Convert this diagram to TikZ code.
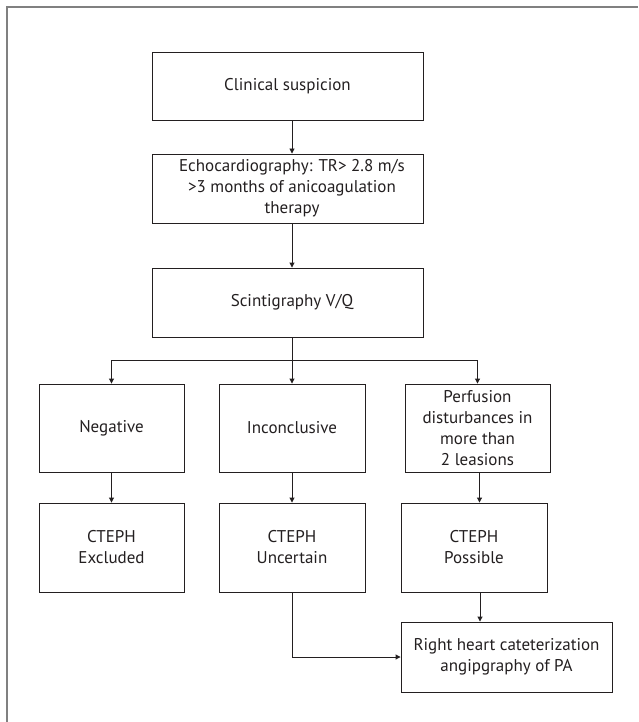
\documentclass[tikz,border=0pt]{standalone}
\usepackage{fontspec}
\setmainfont{PT Sans}
\usetikzlibrary{arrows.meta}
\definecolor{ink}{HTML}{231F20}
\definecolor{framegray}{HTML}{808080}

\begin{document}
\begin{tikzpicture}[x=1pt,y=-1pt,
    box/.style={draw=ink, line width=0.9pt, text=ink, align=center, inner sep=0pt,
        font=\fontsize{17}{21}\selectfont},
    flow/.style={draw=ink, line width=0.9pt, -{Triangle[length=5pt,width=5pt]}}]
    \useasboundingbox (0,0) rectangle (638,722);
    % Outer frame
    \draw[framegray, line width=1.6pt] (7,722) -- (7,7) -- (638,7);
    % Top column
    \node[box, minimum width=271, minimum height=68] (clin) at (287.5,86) {Clinical suspicion};
    \node[box, minimum width=271, minimum height=69] (echo) at (287.5,188.5)
        {\hspace*{9pt}Echocardiography: TR> 2.8 m/s\\\hspace*{9pt}>3 months of anicoagulation\\\hspace*{9pt}therapy};
    \node[box, minimum width=271, minimum height=69] (scint) at (287.5,302.5) {\hspace*{9pt}Scintigraphy V/Q};
    % Results
    \node[box, minimum width=145, minimum height=88] (neg) at (111.5,428) {Negative};
    \node[box, minimum width=146, minimum height=88] (inc) at (292,428) {Inconclusive};
    \node[box, minimum width=145, minimum height=88] (perf) at (477.5,428)
        {Perfusion\\disturbances in\\more than\\2 leasions};
    % Outcomes
    \node[box, minimum width=145, minimum height=89] (excl) at (111.5,547.5) {CTEPH\\Excluded};
    \node[box, minimum width=146, minimum height=89] (unc) at (292,547.5) {CTEPH\\Uncertain};
    \node[box, minimum width=146, minimum height=89] (poss) at (474,547.5) {CTEPH\\Possible};
    \node[box, minimum width=211, minimum height=70] (rhc) at (506.5,657)
        {Right heart cateterization\\angipgraphy of PA};
    % Connectors
    \coordinate (fork) at (292,360);
    \draw[flow] (clin.south -| inc) -- (echo.north -| inc);
    \draw[flow] (echo.south -| inc) -- (scint.north -| inc);
    \draw[draw=ink, line width=0.9pt] (scint.south -| fork) -- (fork);
    \draw[flow] (fork) -| (neg.north);
    \draw[flow] (fork) -- (inc.north);
    \draw[flow] (fork) -| (perf.north);
    \draw[flow] (neg) -- (excl);
    \draw[flow] (inc) -- (unc);
    \draw[flow] ([xshift=2pt]perf.south) -- ([xshift=2pt]perf.south |- poss.north);
    \draw[flow] ([xshift=6pt]poss.south) -- ([xshift=6pt]poss.south |- rhc.north);
    \draw[flow] (unc.south) |- (rhc.west);
\end{tikzpicture}
\end{document}
